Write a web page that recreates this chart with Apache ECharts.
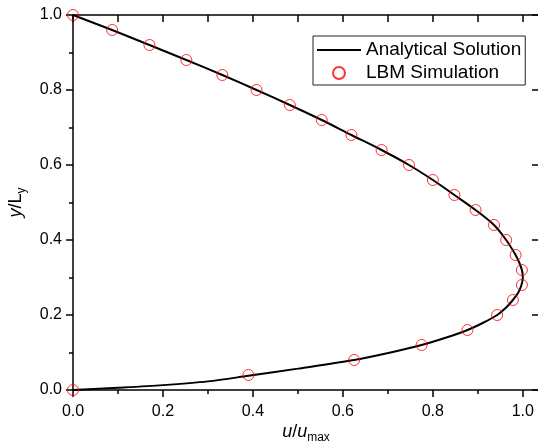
<!DOCTYPE html>
<html>
<head>
<meta charset="utf-8">
<script src="https://cdn.jsdelivr.net/npm/echarts@6/dist/echarts.min.js"></script>
<style>
  html, body { margin: 0; padding: 0; background: #fff; }
  #chart { width: 538px; height: 444px; }
</style>
</head>
<body>
<div id="chart"></div>
<script>
  /** Data */
  // LBM simulation points: y/Ly and u/umax
  var lbmY = [0, 0.04, 0.08, 0.12, 0.16, 0.20, 0.24, 0.28, 0.32, 0.36, 0.40, 0.44, 0.48,
              0.52, 0.56, 0.60, 0.64, 0.68, 0.72, 0.76, 0.80, 0.84, 0.88, 0.92, 0.96, 1.00];
  var lbmU = [0, 0.39, 0.625, 0.775, 0.877, 0.943, 0.978, 0.998, 0.998, 0.984, 0.963, 0.936, 0.895,
              0.848, 0.800, 0.747, 0.686, 0.619, 0.553, 0.482, 0.408, 0.332, 0.252, 0.170, 0.087, 0];

  // analytical solution curve
  var exactY = [0, 0.006, 0.013, 0.023, 0.038, 0.057, 0.08, 0.10, 0.12, 0.14, 0.16, 0.18, 0.20,
                0.22, 0.24, 0.26, 0.28, 0.30, 0.32, 0.34, 0.36, 0.40, 0.44, 0.48, 0.52, 0.56,
                0.60, 0.64, 0.68, 0.72, 0.76, 0.80, 0.84, 0.88, 0.92, 0.96, 1.00];
  var exactU = [0, 0.10, 0.20, 0.30, 0.39, 0.50, 0.625, 0.706, 0.775, 0.830, 0.877, 0.913, 0.943,
                0.963, 0.978, 0.990, 0.997, 1.000, 0.998, 0.992, 0.984, 0.963, 0.936, 0.895, 0.848, 0.800,
                0.747, 0.686, 0.619, 0.553, 0.482, 0.408, 0.332, 0.252, 0.170, 0.087, 0];

  var xTicks = ['0.0', '0.2', '0.4', '0.6', '0.8', '1.0'];
  var yTicks = ['0.0', '0.2', '0.4', '0.6', '0.8', '1.0'];

  function pairs(xs, ys) {
    var out = [];
    for (var i = 0; i < xs.length; i++) out.push([xs[i], ys[i]]);
    return out;
  }

  var FONT = "'Liberation Sans', Arial, sans-serif";
  var XMAX = 1.036;

  function tickLabel(list) {
    return function(v) {
      var s = v.toFixed(1);
      return list.indexOf(s) >= 0 && Math.abs(v - parseFloat(s)) < 1e-6 ? s : '';
    };
  }

  var lineStyleAxis = { color: '#000', width: 1.5 };
  var noLabel = { show: false };
  var nameRich = {
    i: { fontFamily: FONT, fontSize: 18, fontStyle: 'italic', color: '#000', lineHeight: 24 },
    s: { fontFamily: FONT, fontSize: 12, color: '#000', verticalAlign: 'bottom', lineHeight: 24 }
  };

  var option = {
    animation: false,
    backgroundColor: '#fff',
    grid: { left: 73, right: -1, top: 15, bottom: 54, containLabel: false, outerBoundsMode: 'none' },
    legend: {
      left: 313,
      top: 36,
      orient: 'vertical',
      padding: [4, 4, 2, 4],
      itemGap: 3,
      itemWidth: 44,
      itemHeight: 12,
      borderColor: '#222',
      borderWidth: 1,
      textStyle: { fontFamily: FONT, fontSize: 19, color: '#000', lineHeight: 20 },
      data: [
        { name: 'Analytical Solution', icon: 'path://M0,0H44V2H0Z' },
        { name: 'LBM Simulation' }
      ]
    },
    xAxis: [
      {
        type: 'value', position: 'bottom', min: 0, max: XMAX, interval: 0.2,
        splitLine: { show: false },
        axisLine: { onZero: false, lineStyle: lineStyleAxis },
        axisTick: { inside: false, length: 7, lineStyle: { color: '#000', width: 1.5 } },
        axisLabel: { fontFamily: FONT, fontSize: 16, color: '#000', margin: 14,
                     formatter: tickLabel(xTicks) },
        name: '{i|u}/{i|u}{s|max}',
        nameLocation: 'middle',
        nameGap: 30,
        nameMoveOverlap: false,
        nameTextStyle: { rich: nameRich, fontFamily: FONT, fontSize: 18, color: '#000', lineHeight: 24 }
      },
      {
        type: 'value', position: 'bottom', min: 0, max: XMAX, interval: 0.1,
        splitLine: { show: false }, axisLine: { show: false, onZero: false }, axisLabel: noLabel,
        axisTick: { inside: false, length: 4, lineStyle: { color: '#000', width: 1.5 } }
      },
      {
        type: 'value', position: 'top', min: 0, max: XMAX, interval: 0.1,
        splitLine: { show: false },
        axisLine: { onZero: false, lineStyle: lineStyleAxis }, axisLabel: noLabel,
        axisTick: { inside: true, length: 7, lineStyle: { color: '#000', width: 1.5 } }
      }
    ],
    yAxis: [
      {
        type: 'value', position: 'left', min: 0, max: 1, interval: 0.2,
        splitLine: { show: false },
        axisLine: { onZero: false, lineStyle: lineStyleAxis },
        axisTick: { inside: false, length: 7, lineStyle: { color: '#000', width: 1.5 } },
        axisLabel: { fontFamily: FONT, fontSize: 16, color: '#000', margin: 11,
                     formatter: tickLabel(yTicks) },
        name: '{i|y}/L{s|y}',
        nameLocation: 'middle',
        nameGap: 45,
        nameRotate: 90,
        nameTextStyle: { rich: nameRich, fontFamily: FONT, fontSize: 18, color: '#000', lineHeight: 24 }
      },
      {
        type: 'value', position: 'left', min: 0, max: 1, interval: 0.1,
        splitLine: { show: false }, axisLine: { show: false, onZero: false }, axisLabel: noLabel,
        axisTick: { inside: false, length: 4, lineStyle: { color: '#000', width: 1.5 } }
      },
      {
        type: 'value', position: 'right', min: 0, max: 1, interval: 0.2,
        splitLine: { show: false },
        axisLine: { onZero: false, lineStyle: lineStyleAxis }, axisLabel: noLabel,
        axisTick: { inside: true, length: 7, lineStyle: { color: '#000', width: 1.5 } }
      }
    ],
    series: [
      {
        name: 'Analytical Solution',
        type: 'line',
        xAxisIndex: 0, yAxisIndex: 0,
        data: pairs(exactU, exactY),
        symbol: 'none',
        smooth: 0.3,
        lineStyle: { color: '#000', width: 2 },
        itemStyle: { color: '#000' },
        z: 2
      },
      {
        name: 'LBM Simulation',
        type: 'scatter',
        xAxisIndex: 0, yAxisIndex: 0,
        data: pairs(lbmU, lbmY),
        symbol: 'circle',
        symbolSize: 11,
        itemStyle: { color: 'rgba(0,0,0,0)', borderColor: '#ff0000', borderWidth: 1 },
        z: 3
      }
    ]
  };

  echarts.init(document.getElementById('chart')).setOption(option);
</script>
</body>
</html>
